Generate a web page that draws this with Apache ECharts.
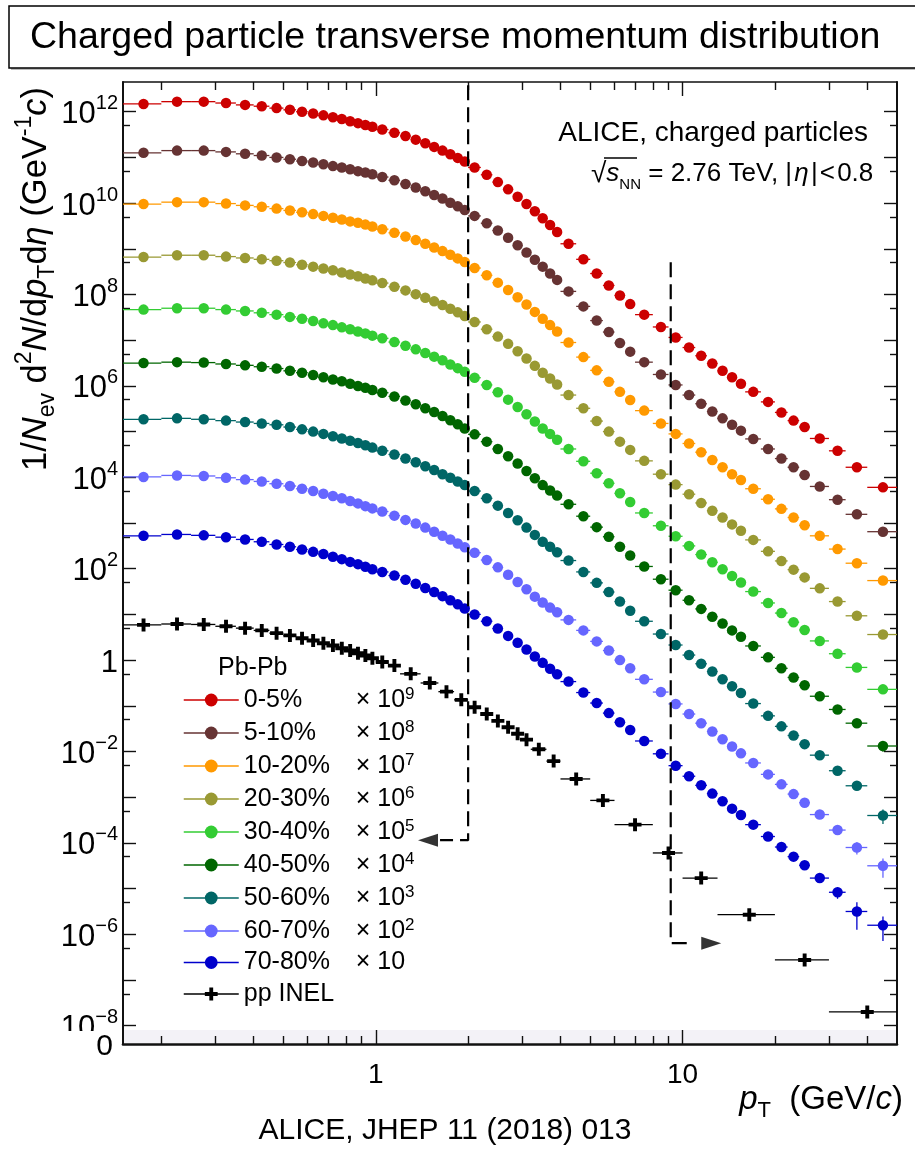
<!DOCTYPE html>
<html>
<head>
<meta charset="utf-8">
<script src="https://cdn.jsdelivr.net/npm/echarts@6/dist/echarts.min.js"></script>
<style>html,body{margin:0;padding:0;background:#fff}#c{width:915px;height:1149px}</style>
</head>
<body>
<div id="c"></div>
<script>
// ---------------- DATA ----------------
const ptEdgesPbPb = [0.15,0.2,0.25,0.3,0.35,0.4,0.45,0.5,0.55,0.6,0.65,0.7,0.75,0.8,0.85,0.9,0.95,1.0,1.1,1.2,1.3,1.4,1.5,1.6,1.7,1.8,1.9,2.0,2.2,2.4,2.6,2.8,3.0,3.2,3.4,3.6,3.8,4.0,4.5,5.0,5.5,6.0,6.5,7.0,8.0,9.0,10,11,12,13,14,15,16,18,20,22,24,26,30,34,40,50];
const ptCentersPbPb = [0.175,0.225,0.275,0.325,0.375,0.425,0.475,0.525,0.575,0.625,0.675,0.725,0.775,0.825,0.875,0.925,0.975,1.05,1.15,1.25,1.35,1.45,1.55,1.65,1.75,1.85,1.95,2.1,2.3,2.5,2.7,2.9,3.1,3.3,3.5,3.7,3.9,4.25,4.75,5.25,5.75,6.25,6.75,7.5,8.5,9.5,10.5,11.5,12.5,13.5,14.5,15.5,17,19,21,23,25,28,32,37,45];
const ptEdgesPP = [0.15,0.2,0.25,0.3,0.35,0.4,0.45,0.5,0.55,0.6,0.65,0.7,0.75,0.8,0.85,0.9,0.95,1.0,1.1,1.2,1.4,1.6,1.8,2.0,2.2,2.4,2.6,2.8,3.0,3.2,3.6,4.0,5,6,8,10,13,20,30,50];
const ptCentersPP = [0.175,0.225,0.275,0.325,0.375,0.425,0.475,0.525,0.575,0.625,0.675,0.725,0.775,0.825,0.875,0.925,0.975,1.05,1.15,1.3,1.5,1.7,1.9,2.1,2.3,2.5,2.7,2.9,3.1,3.4,3.8,4.5,5.5,7,9,11.5,16.5,25,40];

const centralityLabels = ['0-5%','5-10%','10-20%','20-30%','30-40%','40-50%','50-60%','60-70%','70-80%'];
const scaleExponents = [9,8,7,6,5,4,3,2,1];
const ppLabel = 'pp INEL';

// 1/Nev d2N/dpTdeta (GeV/c)^-1, already multiplied by the legend scale factor
const yield_0_5 = [1.48e12,1.66e12,1.66e12,1.55e12,1.41e12,1.32e12,1.20e12,1.10e12,1.00e12,9.12e11,8.32e11,7.59e11,6.92e11,6.17e11,5.62e11,5.13e11,4.68e11,
4.07e11,3.47e11,2.95e11,2.45e11,2.04e11,1.70e11,1.41e11,1.17e11,9.77e10,8.13e10,
6.03e10,4.17e10,2.88e10,2.00e10,1.38e10,9.55e9,6.61e9,4.68e9,3.31e9,2.34e9,
1.29e9,5.89e8,2.88e8,1.58e8,9.55e7,6.17e7,3.63e7,1.95e7,1.15e7,
6.92e6,4.57e6,3.09e6,2.14e6,1.55e6,1.12e6,7.41e5,4.47e5,2.63e5,1.74e5,1.26e5,7.08e4,3.80e4,1.66e4,6.03e3];
const yield_5_10 = [1.26e11,1.41e11,1.41e11,1.32e11,1.20e11,1.10e11,1.00e11,9.12e10,8.32e10,7.76e10,7.08e10,6.46e10,6.03e10,5.50e10,5.01e10,4.68e10,4.27e10,
3.72e10,3.16e10,2.63e10,2.19e10,1.82e10,1.51e10,1.26e10,1.02e10,8.51e9,7.08e9,
5.25e9,3.63e9,2.51e9,1.74e9,1.20e9,8.32e8,5.75e8,4.07e8,2.88e8,2.09e8,
1.17e8,5.50e7,2.69e7,1.51e7,8.71e6,5.62e6,3.31e6,1.78e6,1.05e6,
6.31e5,4.07e5,2.75e5,1.95e5,1.41e5,1.05e5,6.92e4,4.17e4,2.57e4,1.66e4,1.12e4,6.31e3,3.24e3,1.55e3,6.46e2];
const yield_10_20 = [9.55e9,1.05e10,1.05e10,9.77e9,8.91e9,8.32e9,7.59e9,6.92e9,6.31e9,5.75e9,5.25e9,4.79e9,4.37e9,3.98e9,3.72e9,3.39e9,3.09e9,
2.69e9,2.24e9,1.86e9,1.55e9,1.29e9,1.07e9,8.91e8,7.41e8,6.17e8,5.13e8,
3.80e8,2.63e8,1.82e8,1.26e8,8.71e7,6.03e7,4.17e7,2.95e7,2.14e7,1.55e7,
8.91e6,4.27e6,2.19e6,1.23e6,7.41e5,4.90e5,2.88e5,1.51e5,8.91e4,
5.50e4,3.55e4,2.40e4,1.66e4,1.17e4,8.71e3,5.62e3,3.31e3,2.04e3,1.32e3,8.91e2,5.25e2,2.69e2,1.32e2,5.50e1];
const yield_20_30 = [6.61e8,7.24e8,7.24e8,6.76e8,6.31e8,5.89e8,5.50e8,5.01e8,4.47e8,4.07e8,3.72e8,3.39e8,3.02e8,2.75e8,2.51e8,2.24e8,2.04e8,
1.78e8,1.48e8,1.23e8,1.02e8,8.51e7,7.08e7,5.89e7,4.90e7,4.07e7,3.39e7,
2.51e7,1.74e7,1.20e7,8.32e6,5.75e6,3.98e6,2.75e6,1.95e6,1.45e6,1.07e6,
6.31e5,3.24e5,1.70e5,1.00e5,6.03e4,3.98e4,2.29e4,1.17e4,6.92e3,
4.27e3,2.75e3,1.86e3,1.32e3,9.33e2,6.76e2,4.27e2,2.40e2,1.48e2,9.55e1,6.46e1,3.72e1,1.91e1,9.33,3.63];
const yield_30_40 = [4.68e7,5.01e7,5.01e7,4.68e7,4.37e7,3.98e7,3.63e7,3.24e7,2.95e7,2.63e7,2.34e7,2.14e7,1.91e7,1.74e7,1.55e7,1.41e7,1.26e7,
1.10e7,9.12e6,7.59e6,6.31e6,5.25e6,4.37e6,3.63e6,2.95e6,2.45e6,2.04e6,
1.51e6,1.05e6,7.24e5,5.01e5,3.47e5,2.40e5,1.66e5,1.17e5,8.91e4,6.61e4,
4.17e4,2.24e4,1.23e4,7.41e3,4.47e3,2.88e3,1.66e3,8.71e2,5.13e2,
3.16e2,2.04e2,1.38e2,9.77e1,6.92e1,5.01e1,3.16e1,1.78e1,1.07e1,6.76,4.57,2.63,1.38,0.692,0.229];
const yield_40_50 = [3.16e6,3.31e6,3.24e6,3.02e6,2.82e6,2.63e6,2.40e6,2.14e6,1.95e6,1.74e6,1.55e6,1.38e6,1.26e6,1.12e6,1.00e6,9.12e5,8.13e5,
7.08e5,5.89e5,4.79e5,3.98e5,3.24e5,2.69e5,2.19e5,1.78e5,1.45e5,1.17e5,
8.71e4,6.03e4,4.17e4,2.88e4,2.00e4,1.38e4,9.55e3,6.76e3,5.13e3,3.98e3,
2.57e3,1.41e3,8.13e2,5.01e2,3.02e2,1.95e2,1.12e2,5.89e1,3.39e1,
2.04e1,1.32e1,8.91,6.31,4.47,3.24,2.04,1.15,0.661,0.417,0.282,0.162,0.0832,0.0417,0.0132];
const yield_50_60 = [1.86e5,1.95e5,1.86e5,1.74e5,1.62e5,1.51e5,1.41e5,1.26e5,1.12e5,1.00e5,8.91e4,7.94e4,7.08e4,6.31e4,5.62e4,5.01e4,4.47e4,
3.80e4,3.16e4,2.57e4,2.14e4,1.74e4,1.45e4,1.17e4,9.77e3,8.13e3,6.76e3,
5.01e3,3.47e3,2.40e3,1.66e3,1.15e3,7.94e2,5.50e2,3.89e2,3.02e2,2.29e2,
1.51e2,8.51e1,4.90e1,3.09e1,1.91e1,1.20e1,7.08,3.72,2.14,
1.29,0.832,0.562,0.380,0.269,0.191,0.112,0.0603,0.0355,0.0224,0.0145,0.00832,0.00380,0.00178,0.000398];
const yield_60_70 = [1.02e4,1.10e4,1.07e4,9.77e3,8.91e3,8.13e3,7.24e3,6.46e3,5.62e3,5.01e3,4.37e3,3.89e3,3.47e3,3.02e3,2.69e3,2.34e3,2.09e3,
1.78e3,1.45e3,1.17e3,9.77e2,7.94e2,6.46e2,5.25e2,4.37e2,3.55e2,2.95e2,
2.24e2,1.55e2,1.07e2,7.41e1,5.13e1,3.55e1,2.45e1,1.82e1,1.41e1,1.12e1,
7.59,4.47,2.57,1.62,1.00,0.661,0.380,0.200,0.110,
0.0661,0.0417,0.0275,0.0186,0.0129,0.00912,0.00562,0.00316,0.00191,0.00117,0.000759,0.000417,0.000191,7.94e-5,3.16e-5];
const yield_70_80 = [525,562,537,490,437,389,339,302,263,234,209,182,162,141,126,110,97.7,
85.1,70.8,57.5,46.8,38.0,30.9,25.1,20.4,16.6,13.5,
10.0,7.08,4.90,3.39,2.40,1.70,1.20,0.871,0.646,0.490,
0.339,0.195,0.115,0.0692,0.0437,0.0295,0.0170,0.00891,0.00490,
0.00288,0.00182,0.00120,0.000813,0.000562,0.000407,0.000251,0.000138,8.13e-5,5.01e-5,3.24e-5,1.70e-5,8.32e-6,3.16e-6,1.58e-6];
const yield_pp = [5.89,6.17,6.03,5.50,5.01,4.47,3.89,3.47,3.02,2.69,2.34,2.09,1.82,1.62,1.41,1.26,1.10,
0.912,0.759,0.501,0.316,0.204,0.135,
0.0933,0.0661,0.0468,0.0339,0.0245,0.0182,0.0112,0.00617,
0.00251,0.000851,0.000251,6.03e-5,1.70e-5,2.69e-6,2.75e-7,2.00e-8];

// relative vertical uncertainties of the last six Pb-Pb bins (23,25,28,32,37,45 GeV/c)
const tailRelErr = [
  [0.03,0.03,0.04,0.05,0.07,0.10],
  [0.03,0.04,0.05,0.06,0.08,0.12],
  [0.03,0.04,0.05,0.06,0.08,0.12],
  [0.04,0.05,0.06,0.08,0.10,0.15],
  [0.05,0.06,0.08,0.10,0.12,0.20],
  [0.06,0.07,0.09,0.12,0.15,0.25],
  [0.07,0.08,0.10,0.14,0.20,0.35],
  [0.10,0.12,0.15,0.20,0.30,0.45],
  [0.12,0.15,0.18,0.28,0.60,0.55]
];

// annotation: dashed pT boundaries with arrows
const cutLowLine = [[2, 3.8e12],[2, 1.15e-4],[1.62, 1.15e-4]];
const cutLowArrow = [[1.48, 1.15e-4]];
const cutHighLine = [[9.15, 5.1e8],[9.15, 6.4e-7],[10.8, 6.4e-7]];
const cutHighArrow = [[12.4, 6.4e-7]];

// axes
const xRange = [0.15, 50];
const yRange = [3.98e-9, 4.47e12];
const xMajorTicks = [1, 10];
const xMinorTicks = [0.2,0.3,0.4,0.5,0.6,0.7,0.8,0.9,2,3,4,5,6,7,8,9,20,30,40];
const yMajorTicks = [1e-8,1e-7,1e-6,1e-5,1e-4,1e-3,1e-2,1e-1,1,1e1,1e2,1e3,1e4,1e5,1e6,1e7,1e8,1e9,1e10,1e11,1e12];
const yMinorTicks = [5e-8,5e-7,5e-6,5e-5,5e-4,5e-3,5e-2,5e-1,5,5e1,5e2,5e3,5e4,5e5,5e6,5e7,5e8,5e9,5e10,5e11];
const yLabelTicks = [1e-8,1e-6,1e-4,1e-2,1,1e2,1e4,1e6,1e8,1e10,1e12];

// ---------------- CHART ----------------
const FONT = "'Liberation Sans', Arial, Helvetica, sans-serif";
const colors = ['#cc0000','#663333','#ff9900','#999933','#33cc33','#006600','#006666','#6666ff','#0000cc'];
const PLUS = 'path://M3.5,0H6.5V3.5H10V6.5H6.5V10H3.5V6.5H0V3.5H3.5Z';

function errRender(color) {
  return function (params, api) {
    const lo = api.value(0), hi = api.value(1), x = api.value(2), y = api.value(3), r = api.value(4);
    const a = api.coord([lo, y]), b = api.coord([hi, y]);
    const kids = [{type: 'line', shape: {x1: a[0], y1: a[1], x2: b[0], y2: b[1]}, style: {stroke: color, lineWidth: 1.3}}];
    if (r > 0) {
      const u = api.coord([x, y * (1 + r)]), d = api.coord([x, y * (1 - r)]);
      kids.push({type: 'line', shape: {x1: u[0], y1: u[1], x2: d[0], y2: d[1]}, style: {stroke: color, lineWidth: 1.3}});
    }
    return {type: 'group', children: kids};
  };
}

const pbpbYields = [yield_0_5, yield_5_10, yield_10_20, yield_20_30, yield_30_40, yield_40_50, yield_50_60, yield_60_70, yield_70_80];
const series = [];
pbpbYields.forEach((vals, i) => {
  const n = ptCentersPbPb.length;
  series.push({
    type: 'custom', name: '_err' + i, xAxisIndex: 0, yAxisIndex: 0, silent: true, clip: true, z: 3,
    encode: {x: [0, 1, 2], y: 3},
    data: ptCentersPbPb.map((x, j) => {
      const k = j - (n - 6);
      return [ptEdgesPbPb[j], ptEdgesPbPb[j + 1], x, vals[j], k >= 0 ? tailRelErr[i][k] : 0];
    }),
    renderItem: errRender(colors[i])
  });
});
pbpbYields.forEach((vals, i) => {
  series.push({
    type: 'line', name: centralityLabels[i], xAxisIndex: 0, yAxisIndex: 0, silent: true, clip: true, z: 4,
    data: ptCentersPbPb.map((x, j) => [x, vals[j]]),
    symbol: 'circle', symbolSize: 10.5, showSymbol: true,
    lineStyle: {width: 0}, itemStyle: {color: colors[i]}
  });
});
series.push({
  type: 'custom', name: '_errpp', xAxisIndex: 0, yAxisIndex: 0, silent: true, clip: true, z: 3,
  encode: {x: [0, 1, 2], y: 3},
  data: ptCentersPP.map((x, j) => [ptEdgesPP[j], ptEdgesPP[j + 1], x, yield_pp[j], 0]),
  renderItem: errRender('#000')
});
series.push({
  type: 'line', name: ppLabel, xAxisIndex: 0, yAxisIndex: 0, silent: true, clip: true, z: 4,
  data: ptCentersPP.map((x, j) => [x, yield_pp[j]]),
  symbol: PLUS, symbolSize: 13, showSymbol: true,
  lineStyle: {width: 0}, itemStyle: {color: '#000'}
});
// dashed boundaries
[cutLowLine, cutHighLine].forEach((d, i) => series.push({
  type: 'line', name: '_cut' + i, xAxisIndex: 0, yAxisIndex: 0, silent: true, clip: true, z: 6,
  data: d, symbol: 'none', lineStyle: {type: [15, 7], width: 2.2, color: '#000'}
}));
[[cutLowArrow, 90], [cutHighArrow, -90]].forEach((a, i) => series.push({
  type: 'scatter', name: '_arrow' + i, xAxisIndex: 0, yAxisIndex: 0, silent: true, z: 6,
  data: a[0], symbol: 'triangle', symbolRotate: a[1], symbolSize: [13, 20], itemStyle: {color: '#000'}
}));

function xAxisDef(pos, ticks, len, withLine, labels) {
  return {
    type: 'log', logBase: 10, min: xRange[0], max: xRange[1], position: pos, gridIndex: 0,
    axisLine: {show: withLine, onZero: false, lineStyle: {color: '#111', width: pos === 'bottom' ? 2.6 : 1.6}},
    axisTick: {show: true, inside: true, length: len, customValues: ticks, lineStyle: {color: '#111', width: 1.4}},
    axisLabel: labels ? {show: true, customValues: xMajorTicks, formatter: v => String(Math.round(v)), fontSize: 28, color: '#000', fontFamily: FONT, margin: 17} : {show: false},
    splitLine: {show: false}, minorTick: {show: false}, minorSplitLine: {show: false}
  };
}
function yAxisDef(pos, ticks, len, withLine, labels) {
  return {
    type: 'log', logBase: 10, min: yRange[0], max: yRange[1], position: pos, gridIndex: 0,
    axisLine: {show: withLine, onZero: false, lineStyle: {color: '#111', width: 2}},
    axisTick: {show: true, inside: true, length: len, customValues: ticks, lineStyle: {color: '#111', width: 1.4}},
    axisLabel: labels ? {
      show: true, customValues: yLabelTicks, margin: 5, color: '#000', fontFamily: FONT,
      formatter: v => {
        const e = Math.round(Math.log10(v));
        if (e === 0) return '{b|1}';
        return '{b|10}{s|' + (e < 0 ? '\u2212' + (-e) : e) + '}';
      },
      rich: {
        b: {fontSize: 31, lineHeight: 36, fontFamily: FONT, color: '#000', padding: [6, 0, 0, 0]},
        s: {fontSize: 20, lineHeight: 20, verticalAlign: 'top', fontFamily: FONT, color: '#000'}
      }
    } : {show: false},
    splitLine: {show: false}, minorTick: {show: false}, minorSplitLine: {show: false}
  };
}

const legendNames = centralityLabels.concat([ppLabel]);

const option = {
  animation: false,
  backgroundColor: '#fff',
  grid: {left: 123, right: 18, top: 82, bottom: 105, containLabel: false},
  xAxis: [
    xAxisDef('bottom', xMajorTicks, 14, true, true),
    xAxisDef('bottom', xMinorTicks, 8, false, false),
    xAxisDef('top', xMajorTicks, 14, true, false),
    xAxisDef('top', xMinorTicks, 8, false, false)
  ],
  yAxis: [
    yAxisDef('left', yMajorTicks, 13, true, true),
    yAxisDef('left', yMinorTicks, 7, false, false),
    yAxisDef('right', yMajorTicks, 13, true, false),
    yAxisDef('right', yMinorTicks, 7, false, false)
  ],
  legend: {
    data: legendNames, orient: 'vertical', left: 183, top: 686,
    itemWidth: 55, itemHeight: 16, itemGap: 6.5, padding: 0, selectedMode: false,
    lineStyle: {width: 1.5},
    formatter: name => {
      const i = centralityLabels.indexOf(name);
      if (i < 0) return '{n|' + name + '}';
      const e = scaleExponents[i];
      return '{n|' + name + '}{t|\u00d7 10}' + (e > 1 ? '{s|' + e + '}' : '');
    },
    textStyle: {
      fontFamily: FONT, fontSize: 25, color: '#000',
      rich: {
        n: {fontSize: 25, width: 112, lineHeight: 28, fontFamily: FONT, color: '#000'},
        t: {fontSize: 25, lineHeight: 28, fontFamily: FONT, color: '#000'},
        s: {fontSize: 17, lineHeight: 14, verticalAlign: 'top', fontFamily: FONT, color: '#000'}
      }
    }
  },
  graphic: [
    {type: 'rect', z: 0, shape: {x: 124, y: 1030, width: 772, height: 13}, style: {fill: '#f3f2f7'}},
    {type: 'rect', z: 100, shape: {x: 0, y: 1031, width: 121, height: 8}, style: {fill: '#fff'}},
    {type: 'rect', shape: {x: 11, y: 8, width: 920, height: 62}, style: {fill: '#bbb'}},
    {type: 'rect', shape: {x: 9, y: 6, width: 920, height: 62}, style: {fill: '#fff', stroke: '#000', lineWidth: 1.5}},
    {type: 'text', x: 30, y: 38, style: {text: 'Charged particle transverse momentum distribution', font: '37.5px ' + FONT, fill: '#000', align: 'left', verticalAlign: 'middle', textAlign: 'left', textVerticalAlign: 'middle'}},
    {type: 'text', x: 36, y: 279, rotation: Math.PI / 2, style: {
      text: '{n|1/}{i|N}{sub|ev}{n| d}{sup|2}{i|N}{n|/d}{i|p}{sub|T}{n|d}{i|\u03b7}{n| (GeV}{sup|-1}{i|c}{n|)}',
      align: 'center', verticalAlign: 'middle', textAlign: 'center', textVerticalAlign: 'middle',
      rich: {
        n: {fontSize: 34.5, lineHeight: 46, fontFamily: FONT, fill: '#000'},
        i: {fontSize: 34.5, lineHeight: 46, fontStyle: 'italic', fontFamily: FONT, fill: '#000'},
        sub: {fontSize: 23, lineHeight: 28, verticalAlign: 'bottom', fontFamily: FONT, fill: '#000'},
        sup: {fontSize: 23, lineHeight: 26, verticalAlign: 'top', fontFamily: FONT, fill: '#000'}
      }
    }},
    {type: 'text', z: 101, x: 113, y: 1047, style: {text: '0', font: '30px ' + FONT, fill: '#000', align: 'right', verticalAlign: 'middle', textAlign: 'right', textVerticalAlign: 'middle'}},
    {type: 'text', x: 218, y: 668, style: {text: 'Pb-Pb', font: '25px ' + FONT, fill: '#000', align: 'left', verticalAlign: 'middle', textAlign: 'left', textVerticalAlign: 'middle'}},
    {type: 'text', x: 868, y: 133, style: {text: 'ALICE, charged particles', font: '28px ' + FONT, fill: '#000', align: 'right', verticalAlign: 'middle', textAlign: 'right', textVerticalAlign: 'middle'}},
    {type: 'text', x: 591, y: 174, style: {
      text: '{r|\u221a}{i|s}{sub|NN}{n| = 2.76 TeV, |\u200a}{i|\u03b7}{n|\u200a|\u200a<\u200a0.8}',
      align: 'left', verticalAlign: 'middle', textAlign: 'left', textVerticalAlign: 'middle',
      rich: {
        r: {fontSize: 28, lineHeight: 36, fontFamily: FONT, fill: '#000'},
        n: {fontSize: 26, lineHeight: 36, fontFamily: FONT, fill: '#000'},
        i: {fontSize: 26, lineHeight: 36, fontStyle: 'italic', fontFamily: FONT, fill: '#000'},
        sub: {fontSize: 15, lineHeight: 22, verticalAlign: 'bottom', fontFamily: FONT, fill: '#000'}
      }
    }},
    {type: 'line', shape: {x1: 604, y1: 158, x2: 637, y2: 158}, style: {stroke: '#000', lineWidth: 1.5}},
    {type: 'text', x: 903, y: 1100, style: {
      text: '{i|p}{sub|T}{n|  (GeV/}{i|c}{n|)}',
      align: 'right', verticalAlign: 'middle', textAlign: 'right', textVerticalAlign: 'middle',
      rich: {
        n: {fontSize: 33, lineHeight: 44, fontFamily: FONT, fill: '#000'},
        i: {fontSize: 33, lineHeight: 44, fontStyle: 'italic', fontFamily: FONT, fill: '#000'},
        sub: {fontSize: 22, lineHeight: 26, verticalAlign: 'bottom', fontFamily: FONT, fill: '#000'}
      }
    }},
    {type: 'text', x: 445, y: 1131, style: {text: 'ALICE, JHEP 11 (2018) 013', font: '30px ' + FONT, fill: '#000', align: 'center', verticalAlign: 'middle', textAlign: 'center', textVerticalAlign: 'middle'}}
  ],
  series: series
};

const chart = echarts.init(document.getElementById('c'), null, {renderer: 'canvas'});
chart.setOption(option);
</script>
</body>
</html>
